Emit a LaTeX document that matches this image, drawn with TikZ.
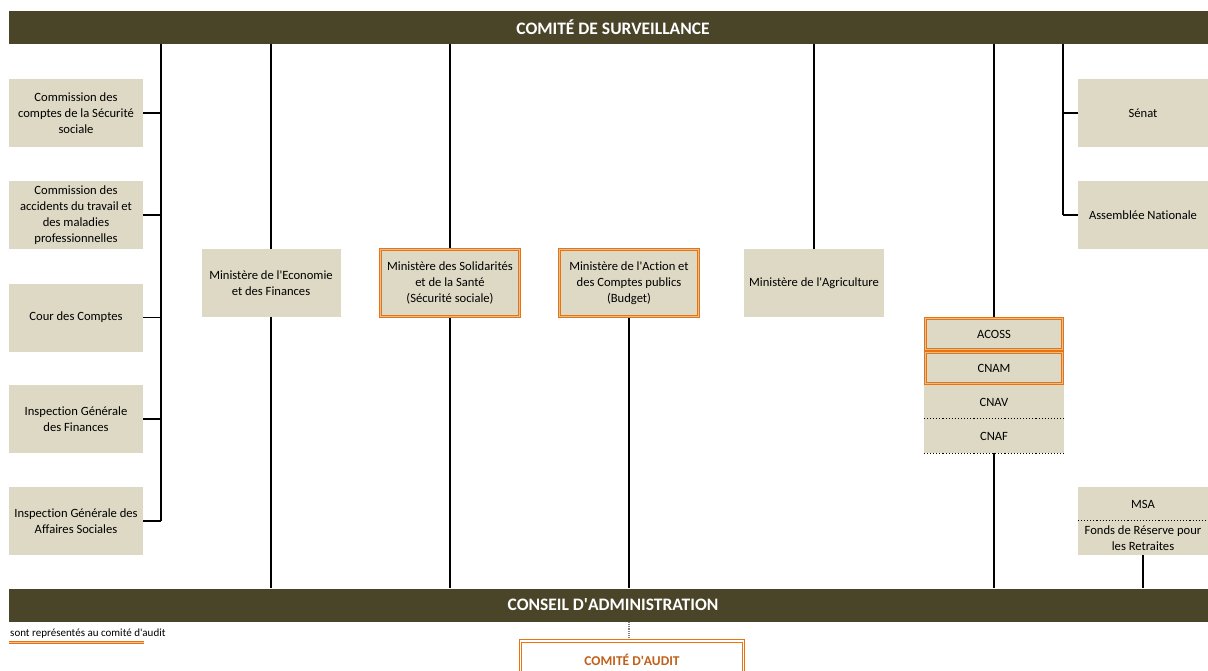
\documentclass[tikz,border=0pt]{standalone}
\usepackage{fontspec}
\setmainfont{Carlito}[Ligatures=NoCommon]
\usetikzlibrary{backgrounds}
\newcommand\qq{\textquotesingle}
\definecolor{barc}{HTML}{4A4529}
\definecolor{boxc}{HTML}{DDD9C4}
\definecolor{orng}{HTML}{E9730F}
\definecolor{auditc}{HTML}{C0601A}
\tikzset{
  box/.style={fill=boxc, inner sep=0pt, align=center, minimum width=134pt, minimum height=68pt, font=\fontsize{12.6}{16}\selectfont},
  hl/.style={draw=orng, line width=1.1pt, double=boxc!75!orng, double distance=1.1pt},
  bar/.style={fill=barc, text=white, inner sep=0pt, minimum width=1208pt, minimum height=33pt, font=\fontsize{17.5}{18}\selectfont\bfseries},
  conn/.style={line width=1.2pt, black},
  sep/.style={line width=1.1pt, dotted, black},
}
\begin{document}
\begin{tikzpicture}[x=1pt,y=-1pt]
\useasboundingbox (0,0) rectangle (1208,670);
% bars
\node[bar] (top) at (613,27.5) {COMITÉ DE SURVEILLANCE};
\node[bar] (bot) at (613,605) {CONSEIL D\qq ADMINISTRATION};
% left column
\node[box] (c1) at (76,113) {Commission des\\comptes de la Sécurité\\sociale};
\node[box] (c2) at (76,215) {Commission des\\accidents du travail et\\des maladies\\professionnelles};
\node[box] (c3) at (76,317.5) {Cour des Comptes};
\node[box] (c4) at (76,419) {Inspection Générale\\des Finances};
\node[box] (c5) at (76,521) {Inspection Générale des\\Affaires Sociales};
% ministries
\node[box, minimum width=139pt] (eco) at (271,283) {Ministère de l\qq Economie\\et des Finances};
\node[box, hl, minimum width=139pt, minimum height=67pt] (sol) at (450,283) {Ministère des Solidarités\\et de la Santé\\(Sécurité sociale)};
\node[box, hl, minimum width=139pt, minimum height=67pt] (act) at (629,283) {Ministère de l\qq Action et\\des Comptes publics\\(Budget)};
\node[box, minimum width=140pt] (agr) at (814,283) {Ministère de l\qq Agriculture};
% caisses
\node[box, hl, minimum width=137pt, minimum height=31pt] (acoss) at (994,334) {ACOSS};
\node[box, hl, minimum width=137pt, minimum height=31pt] (cnam) at (994,368) {CNAM};
\node[box, minimum width=140pt, minimum height=34pt] (cnav) at (994,402) {CNAV};
\node[box, minimum width=140pt, minimum height=34pt] (cnaf) at (994,436) {CNAF};
% right column
\node[box, minimum width=130pt] (senat) at (1143,113) {Sénat};
\node[box, minimum width=130pt] (an) at (1143,215) {Assemblée Nationale};
\node[box, minimum width=130pt, minimum height=34pt] (msa) at (1143,504) {MSA};
\node[box, minimum width=130pt, minimum height=34pt] (frr) at (1143,538) {Fonds de Réserve pour\\les Retraites};
% audit committee
\node[hl, double=white, fill=white, minimum width=223pt, minimum height=38pt, inner sep=0pt] (audit) at (632,660) {};
\node[text=auditc, font=\fontsize{13.5}{14}\selectfont\bfseries, inner sep=0pt] (auditt) at (632,660) {COMITÉ D\qq AUDIT};
% legend
\node[anchor=west, inner sep=0pt, font=\fontsize{11}{12}\selectfont] (leg) at (10,634) {sont représentés au comité d\qq audit};
\coordinate (ulA) at (9,642.5);
\coordinate (ulB) at (144,642.5);
\draw[orng, line width=0.9pt, double=orng!45!white, double distance=0.4pt] (ulA) -- (ulB);
% separators
\draw[sep] (cnaf.north west) -- ([xshift=2pt]cnaf.north east);
\draw[sep] (cnaf.south west) -- ([xshift=2pt]cnaf.south east);
\draw[sep] (frr.north west) -- (frr.north east);
% connectors (behind)
\coordinate (vL) at (161,521);
\coordinate (vR) at (1063,215);
\begin{scope}[on background layer]
\draw[conn] (top.south -| vL) -- (vL);
\foreach \n in {c1,c2,c3,c4,c5} \draw[conn] (\n.east) -- (\n.east -| vL);
\draw[conn] (top.south -| eco) -- (bot.north -| eco);
\draw[conn] (top.south -| sol) -- (bot.north -| sol);
\draw[conn] (act.south) -- (bot.north -| act);
\draw[conn] (top.south -| agr) -- (agr.north);
\draw[conn] (top.south -| acoss) -- (acoss.north);
\draw[conn] (cnaf.south) -- (bot.north -| cnaf);
\draw[conn] (top.south -| vR) -- (vR);
\draw[conn] (senat.west) -- (senat.west -| vR);
\draw[conn] (an.west) -- (vR);
\draw[conn] (frr.south) -- (bot.north -| frr);
\draw[line width=1.2pt, gray, densely dotted] (bot.south -| act) -- (audit.north -| act);
\end{scope}
\end{tikzpicture}
\end{document}
